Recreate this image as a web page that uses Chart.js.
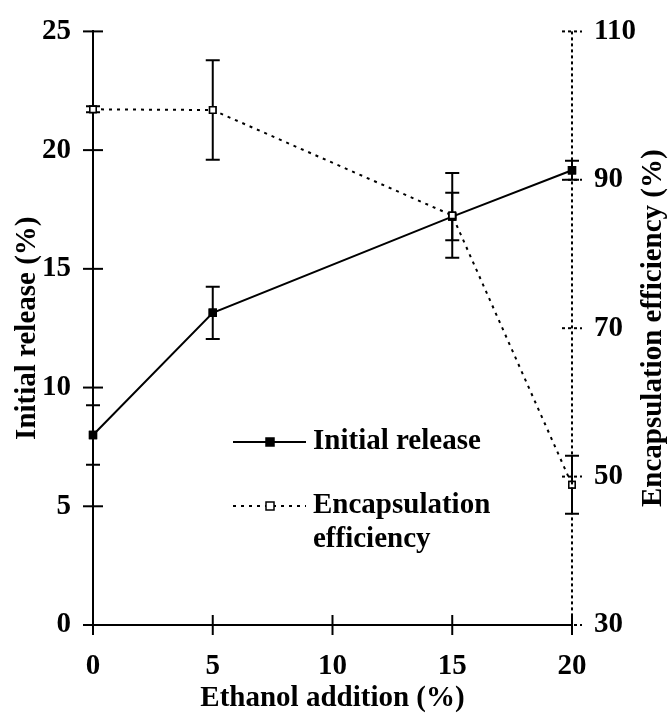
<!DOCTYPE html>
<html>
<head>
<meta charset="utf-8">
<script src="https://cdn.jsdelivr.net/npm/chart.js@4"></script>
<style>
  html, body { margin: 0; padding: 0; background: #fff; }
  #wrap { width: 671px; height: 716px; }
</style>
</head>
<body>
<div id="wrap"><canvas id="chart" width="671" height="716"></canvas></div>
<script>
const ethanol = [0, 5, 15, 20];
const initialRelease = [8.0, 13.15, 17.2, 19.15];
const initialReleaseErr = [1.25, 1.1, 1.0, 0.4];
const encapEff = [99.5, 99.4, 85.2, 48.9];
const encapEffErr = [0.4, 6.7, 5.7, 3.9];

const xTickValues = [0, 5, 10, 15, 20];
const leftTickValues = [0, 5, 10, 15, 20, 25];
const rightTickValues = [30, 50, 70, 90, 110];

const FONT = "'Liberation Serif', 'Times New Roman', serif";
const FS = 29;

const errorBars = {
  id: 'errorBars',
  afterDatasetsDraw(chart) {
    const ctx = chart.ctx;
    const xs = chart.scales.x;
    chart.data.datasets.forEach(ds => {
      const ys = chart.scales[ds.yAxisID];
      ctx.save();
      ctx.strokeStyle = '#000';
      ctx.lineWidth = 2;
      ds.data.forEach((p, i) => {
        const e = ds.errors[i];
        const x = xs.getPixelForValue(p.x);
        const top = ys.getPixelForValue(p.y + e);
        const bot = ys.getPixelForValue(p.y - e);
        ctx.beginPath();
        ctx.moveTo(x, top); ctx.lineTo(x, bot);
        ctx.moveTo(x - 7, top); ctx.lineTo(x + 7, top);
        ctx.moveTo(x - 7, bot); ctx.lineTo(x + 7, bot);
        ctx.stroke();
      });
      ctx.restore();
    });
    // markers on top of the bars
    chart.data.datasets.forEach((ds, di) => {
      chart.getDatasetMeta(di).data.forEach(pt => pt.draw(ctx));
    });
  }
};

const axisTicks = {
  id: 'axisTicks',
  afterDraw(chart) {
    const ctx = chart.ctx;
    const a = chart.chartArea;
    ctx.save();
    ctx.strokeStyle = '#000';
    ctx.lineWidth = 2;
    const xs = chart.scales.x;
    xs.ticks.forEach(t => {
      const x = xs.getPixelForValue(t.value);
      ctx.beginPath(); ctx.moveTo(x, a.bottom - 10); ctx.lineTo(x, a.bottom + 10); ctx.stroke();
    });
    const yl = chart.scales.y;
    yl.ticks.forEach(t => {
      const y = yl.getPixelForValue(t.value);
      ctx.beginPath(); ctx.moveTo(a.left - 10, y); ctx.lineTo(a.left + 10, y); ctx.stroke();
    });
    // dotted right axis
    const yr = chart.scales.y1;
    ctx.setLineDash([3, 3]);
    ctx.beginPath(); ctx.moveTo(a.right, a.top); ctx.lineTo(a.right, a.bottom); ctx.stroke();
    yr.ticks.forEach(t => {
      const y = yr.getPixelForValue(t.value);
      ctx.beginPath(); ctx.moveTo(a.right - 10, y); ctx.lineTo(a.right + 10, y); ctx.stroke();
    });
    ctx.setLineDash([]);
    // right title reads bottom-to-top like the left one
    const t = yr.options.title;
    ctx.fillStyle = '#000';
    ctx.font = 'bold ' + FS + 'px ' + FONT;
    ctx.textAlign = 'center';
    ctx.textBaseline = 'middle';
    ctx.translate(654, (a.top + a.bottom) / 2);
    ctx.rotate(-Math.PI / 2);
    ctx.fillText(t.text, 0, 0);
    ctx.restore();
  }
};

const insideLegend = {
  id: 'insideLegend',
  afterDraw(chart) {
    const ctx = chart.ctx;
    const rows = [
      { ds: chart.data.datasets[0], y: 442, lines: ['Initial release'] },
      { ds: chart.data.datasets[1], y: 506, lines: ['Encapsulation', 'efficiency'] }
    ];
    ctx.save();
    rows.forEach(r => {
      ctx.strokeStyle = '#000';
      ctx.lineWidth = r.ds.borderWidth;
      ctx.setLineDash(r.ds.borderDash || []);
      ctx.beginPath(); ctx.moveTo(233, r.y); ctx.lineTo(306, r.y); ctx.stroke();
      ctx.setLineDash([]);
      ctx.fillStyle = r.ds.pointBackgroundColor;
      ctx.lineWidth = 1.5;
      ctx.fillRect(266, r.y - 4, 8, 8);
      ctx.strokeRect(266, r.y - 4, 8, 8);
      ctx.fillStyle = '#000';
      ctx.font = 'bold ' + FS + 'px ' + FONT;
      ctx.textBaseline = 'middle';
      r.lines.forEach((txt, k) => ctx.fillText(txt, 313, r.y + k * 34));
    });
    ctx.restore();
  }
};

new Chart(document.getElementById('chart'), {
  type: 'line',
  data: {
    datasets: [{
      label: 'Initial release',
      data: ethanol.map((x, i) => ({ x: x, y: initialRelease[i] })),
      errors: initialReleaseErr,
      yAxisID: 'y',
      borderColor: '#000',
      borderWidth: 2,
      pointStyle: 'rect',
      pointRadius: 4.5,
      pointBackgroundColor: '#000',
      pointBorderColor: '#000',
      clip: false
    }, {
      label: 'Encapsulation efficiency',
      data: ethanol.map((x, i) => ({ x: x, y: encapEff[i] })),
      errors: encapEffErr,
      yAxisID: 'y1',
      borderColor: '#000',
      borderWidth: 2,
      borderDash: [3, 5],
      pointStyle: 'rect',
      pointRadius: 4.5,
      pointBackgroundColor: '#fff',
      pointBorderColor: '#000',
      pointBorderWidth: 1.5,
      clip: false
    }]
  },
  options: {
    responsive: false,
    animation: false,
    layout: { padding: { top: 19, left: 0, right: 0, bottom: 0 } },
    plugins: { legend: { display: false }, tooltip: { enabled: false } },
    scales: {
      x: {
        type: 'linear', min: 0, max: 20,
        afterBuildTicks: s => { s.ticks = xTickValues.map(v => ({ value: v })); },
        afterFit: s => { s.height = 91; },
        grid: { display: false },
        border: { display: true, color: '#000', width: 2 },
        ticks: { color: '#000', padding: 16, font: { family: FONT, size: FS, weight: 'bold' } },
        title: { display: true, text: 'Ethanol addition (%)', color: '#000', padding: { top: 0, bottom: 0 },
                 font: { family: FONT, size: FS, weight: 'bold' } }
      },
      y: {
        position: 'left', min: 0, max: 25,
        afterBuildTicks: s => { s.ticks = leftTickValues.map(v => ({ value: v })); },
        afterFit: s => { s.width = 93; },
        grid: { display: false },
        border: { display: true, color: '#000', width: 2 },
        ticks: { color: '#000', padding: 14, font: { family: FONT, size: FS, weight: 'bold' } },
        title: { display: true, text: 'Initial release (%)', color: '#000', padding: { top: 10, bottom: 0 },
                 font: { family: FONT, size: FS, weight: 'bold' } }
      },
      y1: {
        position: 'right', min: 30, max: 110,
        afterBuildTicks: s => { s.ticks = rightTickValues.map(v => ({ value: v })); },
        afterFit: s => { s.width = 99; },
        grid: { display: false },
        border: { display: false },
        ticks: { color: '#000', padding: 14, font: { family: FONT, size: FS, weight: 'bold' } },
        title: { display: false, text: 'Encapsulation efficiency (%)' }
      }
    }
  },
  plugins: [errorBars, axisTicks, insideLegend]
});
</script>
</body>
</html>
